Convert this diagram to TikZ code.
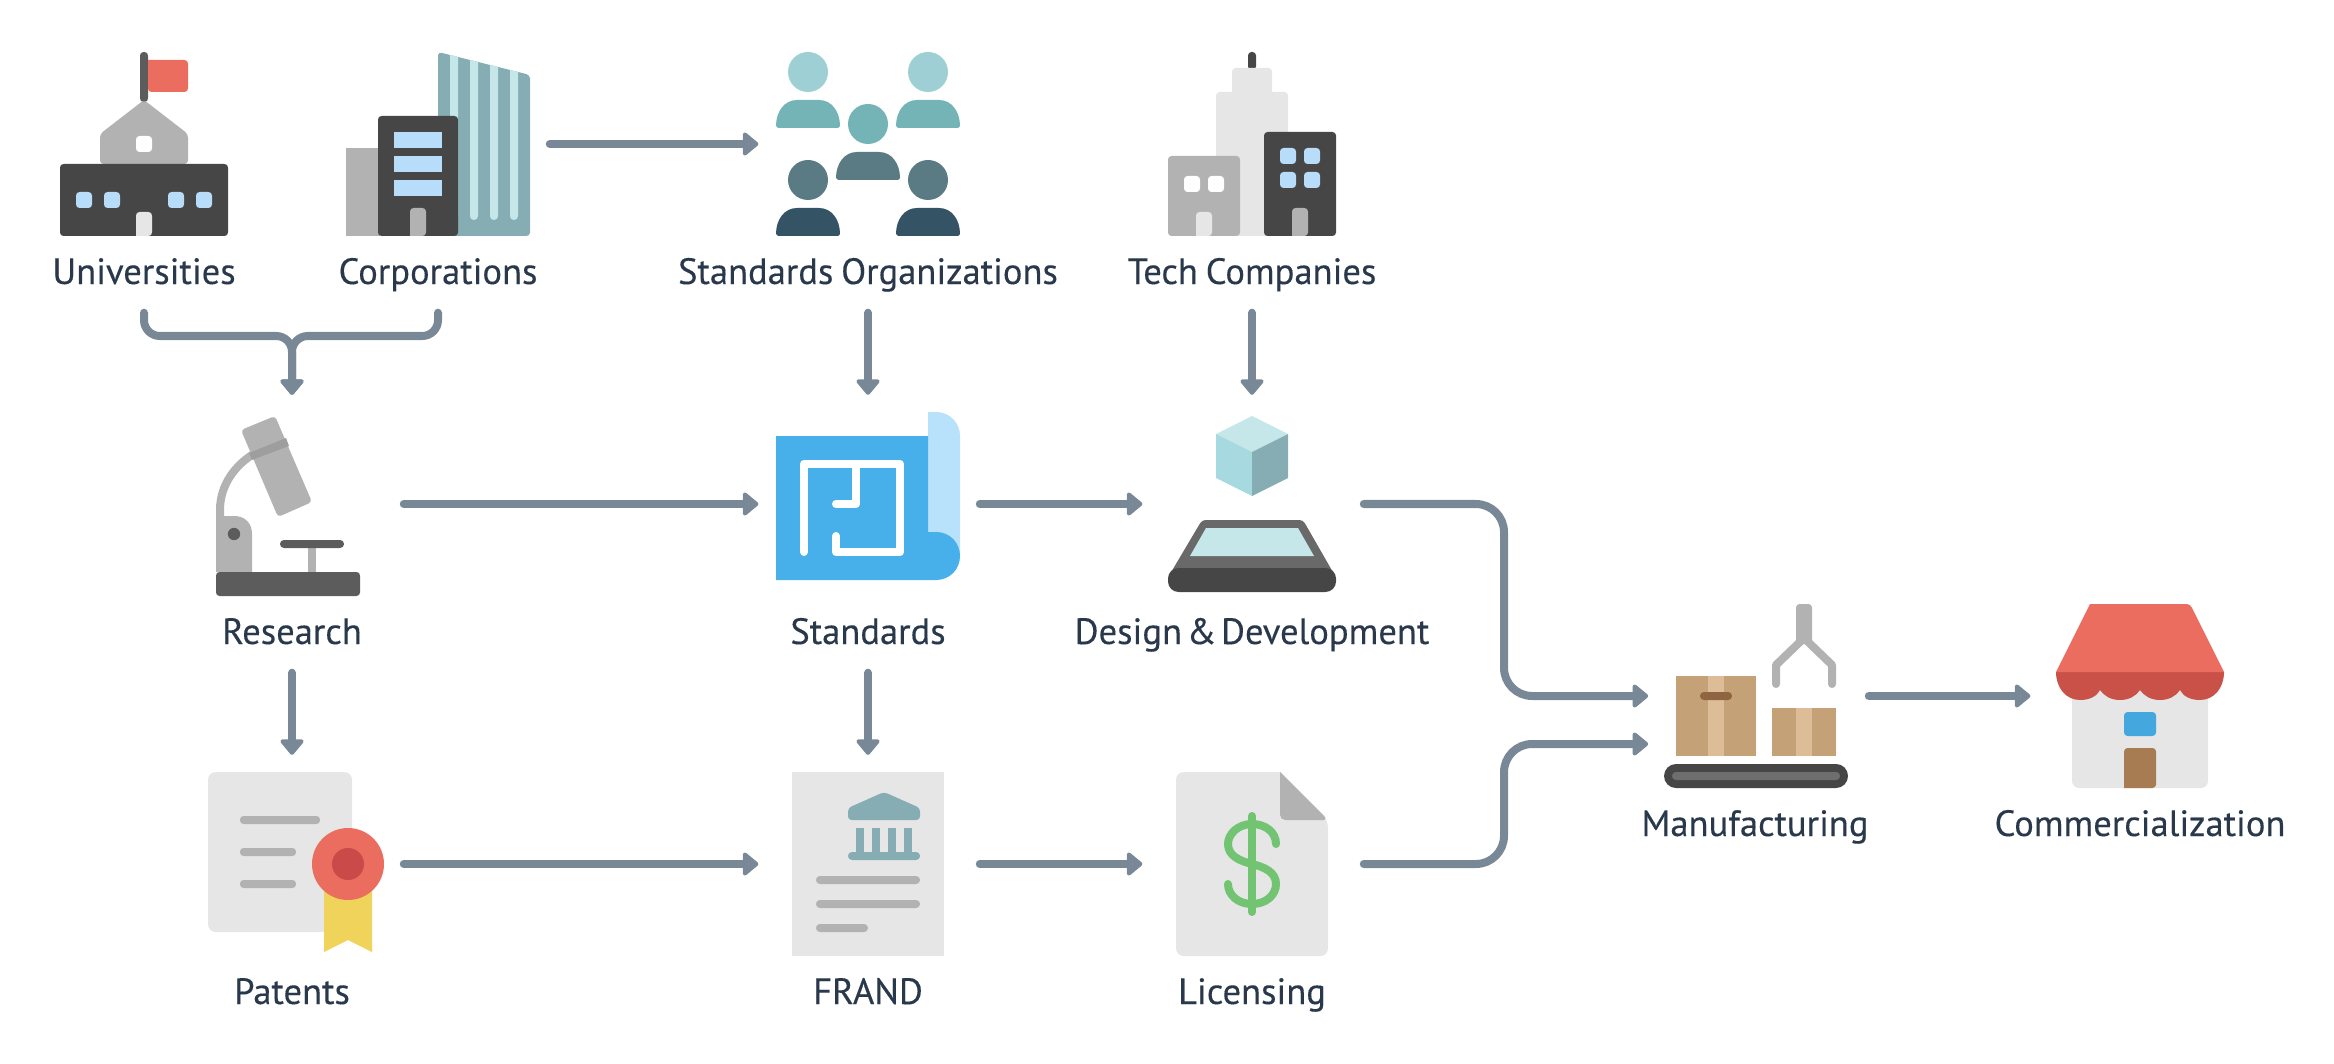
\documentclass[tikz,border=0pt]{standalone}
\usepackage{fontspec}
\setmainfont{PT Sans}[FakeBold=0.25,WordSpace=0.8]
\usetikzlibrary{arrows.meta,calc}
\definecolor{slate}{RGB}{121,136,151}
\definecolor{ink}{RGB}{41,57,75}
\definecolor{coal}{RGB}{70,70,70}
\definecolor{smoke}{RGB}{92,92,92}
\definecolor{ash}{RGB}{178,178,178}
\definecolor{mist}{RGB}{230,230,230}
\definecolor{sky}{RGB}{184,221,251}
\definecolor{coral}{RGB}{235,109,96}
\definecolor{brick}{RGB}{201,81,72}
\definecolor{sea}{RGB}{133,173,179}
\definecolor{ice}{RGB}{197,231,234}
\definecolor{aqua}{RGB}{166,217,224}
\definecolor{tealhead}{RGB}{157,207,212}
\definecolor{tealbody}{RGB}{117,180,182}
\definecolor{tealdeep}{RGB}{91,123,132}
\definecolor{petrol}{RGB}{52,83,101}
\definecolor{azure}{RGB}{71,175,234}
\definecolor{paleblue}{RGB}{184,226,251}
\definecolor{card}{RGB}{196,161,119}
\definecolor{cardlight}{RGB}{221,189,151}
\definecolor{cardtape}{RGB}{142,101,64}
\definecolor{belt}{RGB}{110,110,110}
\definecolor{doorbrown}{RGB}{168,124,82}
\definecolor{pane}{RGB}{68,167,221}
\definecolor{ribbon}{RGB}{240,211,91}
\definecolor{sealred}{RGB}{201,74,73}
\definecolor{cash}{RGB}{114,196,114}
\definecolor{bandgrey}{RGB}{158,158,158}

\begin{document}
\begin{tikzpicture}[x=0.01cm,y=-0.01cm,
    slot/.style={minimum width=2.22cm,minimum height=2.21cm,inner sep=0pt},
    lbl/.style={minimum height=0.8cm,inner sep=0pt,text=ink,text height=0.35cm,text depth=0.11cm,
      font=\fontsize{10.4pt}{12pt}\selectfont},
    flow/.style={draw=slate,line width=0.08cm,line cap=round,shorten >=-0.6pt,
      -{Triangle[round,length=4.8pt,width=7.6pt]}},
    soft/.style={rounded corners=1pt},
    plan/.style={draw=white,line width=0.08cm,line cap=round,line join=round}]
  \useasboundingbox (0,0) rectangle (2334,1064);

  \node[slot] (universities) at (144,144) {};
  \node[lbl] (universitieslabel) at (144,272) {Universities};
  \node[slot] (corporations) at (438,144) {};
  \node[lbl] (corporationslabel) at (438,272) {Corporations};
  \node[slot] (organizations) at (868,144) {};
  \node[lbl] (organizationslabel) at (868,272) {Standards Organizations};
  \node[slot] (techcompanies) at (1252,144) {};
  \node[lbl] (techcompanieslabel) at (1252,272) {Tech Companies};
  \node[slot] (research) at (292,504) {};
  \node[lbl] (researchlabel) at (292,632) {Research};
  \node[slot] (standards) at (868,504) {};
  \node[lbl] (standardslabel) at (868,632) {Standards};
  \node[slot] (design) at (1252,504) {};
  \node[lbl] (designlabel) at (1252,632) {Design\kern-0.9pt{} \&\kern-0.9pt{} Development};
  \node[slot] (patents) at (292,864) {};
  \node[lbl] (patentslabel) at (292,992) {Patents};
  \node[slot] (frand) at (868,864) {};
  \node[lbl] (frandlabel) at (868,992) {FRAND};
  \node[slot] (licensing) at (1252,864) {};
  \node[lbl] (licensinglabel) at (1252,992) {Licensing};
  \node[slot] (manufacturing) at (1757,696) {};
  \node[lbl] (manufacturinglabel) at (1755,824) {Manufacturing};
  \node[slot] (commercialization) at (2140,696) {};
  \node[lbl] (commercializationlabel) at (2140,824) {Commercialization};
  \coordinate (merge) at (292,336);
  \coordinate (bend) at (1504,504);
  \coordinate (bendlow) at (1504,864);
  \coordinate (intop) at (1646,696);
  \coordinate (inlow) at (1646,744);

  \draw[flow,rounded corners=4.5pt] (universitieslabel.south) |- (merge) [rounded corners=7.5pt] -- (research.north);
  \draw[flow,rounded corners=4.5pt] (corporationslabel.south) |- (merge) [rounded corners=7.5pt] -- (research.north);
  \draw[flow] (corporations.east) -- (organizations.west);
  \draw[flow] (organizationslabel.south) -- (standards.north);
  \draw[flow] (techcompanieslabel.south) -- (design.north);
  \draw[flow] (research.east) -- (standards.west);
  \draw[flow] (standards.east) -- (design.west);
  \draw[flow] (researchlabel.south) -- (patents.north);
  \draw[flow] (standardslabel.south) -- (frand.north);
  \draw[flow] (patents.east) -- (frand.west);
  \draw[flow] (frand.east) -- (licensing.west);
  \draw[flow,rounded corners=8pt] (design.east) -- (bend) |- (intop);
  \draw[flow,rounded corners=8pt] (licensing.east) -- (bendlow) |- (inlow);
  \draw[flow] (manufacturing.east) -- (commercialization.west);

  \fill[smoke,rounded corners=1pt] (140,102) -- (140,52) -- (148,52) -- (148,102) -- cycle;
  \fill[coral,rounded corners=1pt] (148,60) -- (188,60) -- (188,92) -- (148,92) [sharp corners] -- cycle;
  \fill[ash,soft] (100,164) -- (100,134) -- (144,100) -- (188,134) -- (188,164) -- cycle;
  \fill[white,soft] (136,136) rectangle (152,152);
  \fill[coal,soft] (60,164) rectangle (228,236);
  \foreach \wx in {76,104,168,196}
    \fill[sky,soft] (\wx,192) rectangle (\wx+16,208);
  \fill[mist,soft] (136,236) -- (136,212) -- (152,212) -- (152,236) [sharp corners] -- cycle;

  \fill[ash] (346,148) rectangle (380,236);
  \fill[sea,soft] (438,52) -- (530,75) -- (530,236) -- (438,236) -- cycle;
  \foreach \sx in {450,470,490,510}
    \fill[ice] (\sx,{52+0.25*(\sx-438)}) -- (\sx+8,{52+0.25*(\sx+8-438)}) [rounded corners=1.1pt] -- (\sx+8,220) -- (\sx,220) [sharp corners] -- cycle;
  \fill[coal,soft] (378,116) rectangle (458,236);
  \foreach \wy in {132,156,180}
    \fill[sky] (394,\wy) rectangle (442,\wy+16);
  \fill[ash,soft] (410,236) -- (410,208) -- (426,208) -- (426,236) [sharp corners] -- cycle;

  \foreach \px/\py/\headc/\bodyc in {808/72/tealhead/tealbody,928/72/tealhead/tealbody,868/124/tealbody/tealdeep,808/180/tealdeep/petrol,928/180/tealdeep/petrol} {
    \fill[\headc] (\px,\py) circle (20);
    \fill[\bodyc] (\px-32,\py+54) .. controls (\px-32,\py+40) and (\px-24,\py+28) .. (\px-11,\py+28)
      -- (\px+11,\py+28) .. controls (\px+24,\py+28) and (\px+32,\py+40) .. (\px+32,\py+54)
      -- (\px+30,\py+56) -- (\px-30,\py+56) -- cycle;
  }

  \fill[coal,rounded corners=1pt] (1248,70) -- (1248,52) -- (1256,52) -- (1256,70) -- cycle;
  \fill[mist,soft] (1232,120) -- (1232,68) -- (1272,68) -- (1272,120) -- cycle;
  \fill[mist,soft] (1216,236) -- (1216,92) -- (1288,92) -- (1288,236) -- cycle;
  \fill[ash,soft] (1168,156) rectangle (1240,236);
  \foreach \wx in {1184,1208}
    \fill[white,soft] (\wx,176) rectangle (\wx+16,192);
  \fill[mist,soft] (1196,236) -- (1196,212) -- (1212,212) -- (1212,236) [sharp corners] -- cycle;
  \fill[coal,soft] (1264,132) rectangle (1336,236);
  \foreach \wx in {1280,1304}
    \foreach \wy in {148,172}
      \fill[sky,soft] (\wx,\wy) rectangle (\wx+16,\wy+16);
  \fill[ash,soft] (1292,236) -- (1292,208) -- (1308,208) -- (1308,236) [sharp corners] -- cycle;

  \draw[ash,line width=0.08cm] (220,520) -- (220,510) .. controls (220,485) and (235,465) .. (255,453);
  \fill[ash,rounded corners=1pt] (241,430) -- (275,416) -- (312,502) -- (278,517) -- cycle;
  \fill[bandgrey] (249,453) -- (286,438) -- (289,446) -- (252,460) -- cycle;
  \fill[ash] (216,572) -- (216,516) -- (234,516) .. controls (245,516) and (252,523) .. (252,534) -- (252,572) -- cycle;
  \fill[smoke] (234,534) circle (6.2);
  \fill[ash] (308,546) rectangle (316,574);
  \fill[smoke,rounded corners=1.1pt] (280,540) rectangle (344,548);
  \fill[smoke,soft] (216,572) rectangle (360,596);

  \fill[paleblue] (928,412) -- (936,412) .. controls (950,412) and (960,423) .. (960,436) -- (960,556) -- (944,540) -- (928,532) -- cycle;
  \fill[azure] (779,436) -- (928,436) -- (928,532) -- (936,532) .. controls (950,532) and (960,543) .. (960,556)
    .. controls (960,569) and (950,580) .. (936,580) -- (776,580) -- (776,436) -- cycle;
  \draw[plan] (804,552) -- (804,464) -- (900,464) -- (900,552) -- (836,552) -- (836,536);
  \draw[plan] (856,464) -- (856,504) -- (836,504);

  \fill[ice] (1252,416) -- (1288,434) -- (1252,452) -- (1216,434) -- cycle;
  \fill[aqua] (1216,434) -- (1252,452) -- (1252,496) -- (1216,478) -- cycle;
  \fill[sea] (1288,434) -- (1252,452) -- (1252,496) -- (1288,478) -- cycle;
  \fill[smoke!92!white,rounded corners=1pt] (1170,574) -- (1202,520) -- (1303,520) -- (1334,574) -- cycle;
  \fill[ice] (1206,528) -- (1298,528) -- (1314,556) -- (1190,556) -- cycle;
  \fill[coal,rounded corners=3pt] (1168,568) rectangle (1336,592);

  \fill[mist,rounded corners=2.2pt] (208,772) rectangle (352,932);
  \fill[ash,rounded corners=1pt] (240,816) rectangle (320,824);
  \fill[ash,rounded corners=1pt] (240,848) rectangle (296,856);
  \fill[ash,rounded corners=1pt] (240,880) rectangle (296,888);
  \fill[ribbon] (324,880) -- (372,880) -- (372,952) -- (348,940) -- (324,952) -- cycle;
  \fill[coral] (348,864) circle (36);
  \fill[sealred] (348,864) circle (16);

  \fill[mist] (792,772) rectangle (944,956);
  \fill[sea,rounded corners=1pt] (848,820) -- (848,808) -- (884,792) -- (920,808) -- (920,820) -- cycle;
  \foreach \cx in {856,872,888,904}
    \fill[sea] (\cx,828) rectangle (\cx+8,854);
  \fill[sea,rounded corners=1.1pt] (848,852) rectangle (920,860);
  \fill[ash,rounded corners=1.1pt] (816,876) rectangle (920,884);
  \fill[ash,rounded corners=1.1pt] (816,900) rectangle (920,908);
  \fill[ash,rounded corners=1.1pt] (816,924) rectangle (868,932);

  \fill[mist,rounded corners=2.2pt] (1280,772) -- (1176,772) -- (1176,956) -- (1328,956) -- (1328,820) [sharp corners] -- (1280,772) -- cycle;
  \fill[ash,rounded corners=1.5pt] (1280,772) -- (1280,820) -- (1328,820) [sharp corners] -- cycle;
  \draw[cash,line width=0.08cm,line cap=round] (1252,816) -- (1252,912);
  \draw[cash,line width=0.08cm,line cap=round] (1276,844) .. controls (1276,832) and (1265,824) .. (1252,824)
    .. controls (1238,824) and (1228,834) .. (1228,844) .. controls (1228,856) and (1240,861) .. (1252,864)
    .. controls (1264,867) and (1276,872) .. (1276,884) .. controls (1276,895) and (1266,904) .. (1252,904)
    .. controls (1238,904) and (1228,895) .. (1228,884);

  \fill[card] (1676,676) rectangle (1756,756);
  \fill[cardlight] (1708,676) rectangle (1724,756);
  \fill[cardtape,rounded corners=1.1pt] (1700,692) rectangle (1732,700);
  \fill[card] (1772,708) rectangle (1836,756);
  \fill[cardlight] (1796,708) rectangle (1812,756);
  \fill[coal,rounded corners=3.4pt] (1664,764) rectangle (1848,788);
  \fill[belt,rounded corners=1.1pt] (1672,772) rectangle (1840,780);
  \fill[ash,rounded corners=1pt] (1796,604) rectangle (1812,644);
  \draw[ash,line width=0.08cm,line cap=round,line join=round] (1776,684) -- (1776,665) -- (1804,638) -- (1832,665) -- (1832,684);

  \fill[mist,rounded corners=2pt] (2072,690) -- (2208,690) -- (2208,788) -- (2072,788) -- cycle;
  \fill[brick] (2056,672) .. controls (2056,688) and (2066,700) .. (2080,700) .. controls (2090,700) and (2097,696) .. (2100,690)
    .. controls (2104,696) and (2111,700) .. (2120,700) .. controls (2129,700) and (2136,696) .. (2140,690)
    .. controls (2144,696) and (2151,700) .. (2160,700) .. controls (2169,700) and (2176,696) .. (2180,690)
    .. controls (2183,696) and (2190,700) .. (2200,700) .. controls (2214,700) and (2224,688) .. (2224,672) -- cycle;
  \fill[coral,soft] (2056,672) [sharp corners] -- (2090,604) [rounded corners=1pt] -- (2190,604) [sharp corners] -- (2224,672) -- cycle;
  \fill[pane,soft] (2124,712) rectangle (2156,736);
  \fill[doorbrown,soft] (2124,788) -- (2124,748) -- (2156,748) -- (2156,788) [sharp corners] -- cycle;
\end{tikzpicture}
\end{document}
